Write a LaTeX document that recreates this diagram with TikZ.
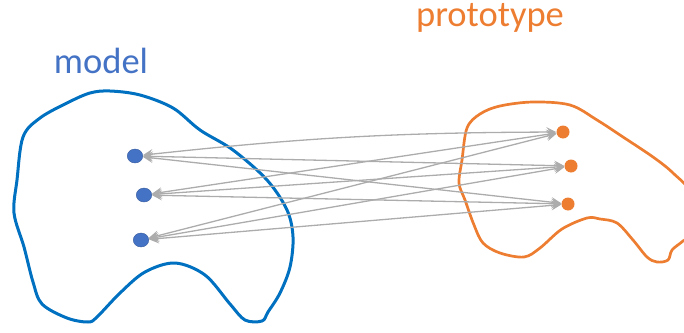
\documentclass[tikz,border=0pt]{standalone}
\usepackage{fontspec}
\setmainfont{Carlito}
\usetikzlibrary{arrows.meta,shapes.geometric}
\definecolor{mblue}{RGB}{0,112,192}
\definecolor{dotblue}{RGB}{68,114,196}
\definecolor{morange}{RGB}{237,125,49}
\definecolor{lgray}{RGB}{172,172,172}
\begin{document}
\begin{tikzpicture}[x=1pt,y=-1pt,
  bdot/.style={ellipse,fill=dotblue,draw=dotblue!80!black,line width=0.4pt,minimum width=15.5pt,minimum height=14pt,inner sep=0pt},
  odot/.style={circle,fill=morange,minimum size=13pt,inner sep=0pt},
  link/.style={draw=lgray,line width=1.3pt,{Stealth[length=10pt,width=10pt,inset=4pt]}-{Stealth[length=10pt,width=10pt,inset=4pt]}},
  blob/.style={line width=3pt,line join=round},
  title/.style={font=\fontsize{36.5}{40}\selectfont,anchor=base}]
\useasboundingbox (0,0) rectangle (684,332);
\clip (0,0) rectangle (684,332);
% model blob
\draw[blob,draw=mblue] plot[smooth cycle,tension=0.55] coordinates {
 (90,93) (110,91) (140,95) (173,108) (200,130) (233,150) (267,180) (287,210)
 (293,237) (290,267) (280,293) (268,312) (262,321) (245,320) (230,304)
 (205,275) (175,263) (145,272) (120,293) (97,317) (88,322) (67,318)
 (42,304) (33,282) (24,247) (14,213) (17,180) (23,137) (40,118) (67,103)};
% prototype blob
\draw[blob,line width=2.7pt,draw=morange] plot[smooth cycle,tension=0.55] coordinates {
 (467,128) (480,114) (500,106) (533,102) (570,105) (597,120) (623,137)
 (653,157) (673,173) (692,195) (692,232) (683,241) (672,250) (668,260)
 (657,262) (647,257) (633,240) (617,223) (600,219) (587,218) (562,229)
 (540,248) (524,257) (500,253) (483,243) (474,225) (465,200) (459,183)
 (462,160)};
% titles
\node[title,text=dotblue] (tm) at (101,73) {model};
\node[title,text=morange] (tp) at (490,26) {prototype};
% dots
\node[bdot] (M1) at (135,156) {};
\node[bdot] (M2) at (144,195) {};
\node[bdot] (M3) at (141,240) {};
\node[odot] (P1) at (563,132) {};
\node[odot] (P2) at (571,166) {};
\node[odot] (P3) at (568,204) {};
% links
\draw[link] (M1) to[bend left=3] (P1);
\draw[link] (M1) -- (P2);
\draw[link] (M1) -- (P3);
\draw[link] (M2) -- (P1);
\draw[link] (M2) -- (P2);
\draw[link] (M2) -- (P3);
\draw[link] (M3) -- (P1);
\draw[link] (M3) -- (P2);
\draw[link] (M3) -- (P3);
\end{tikzpicture}
\end{document}
